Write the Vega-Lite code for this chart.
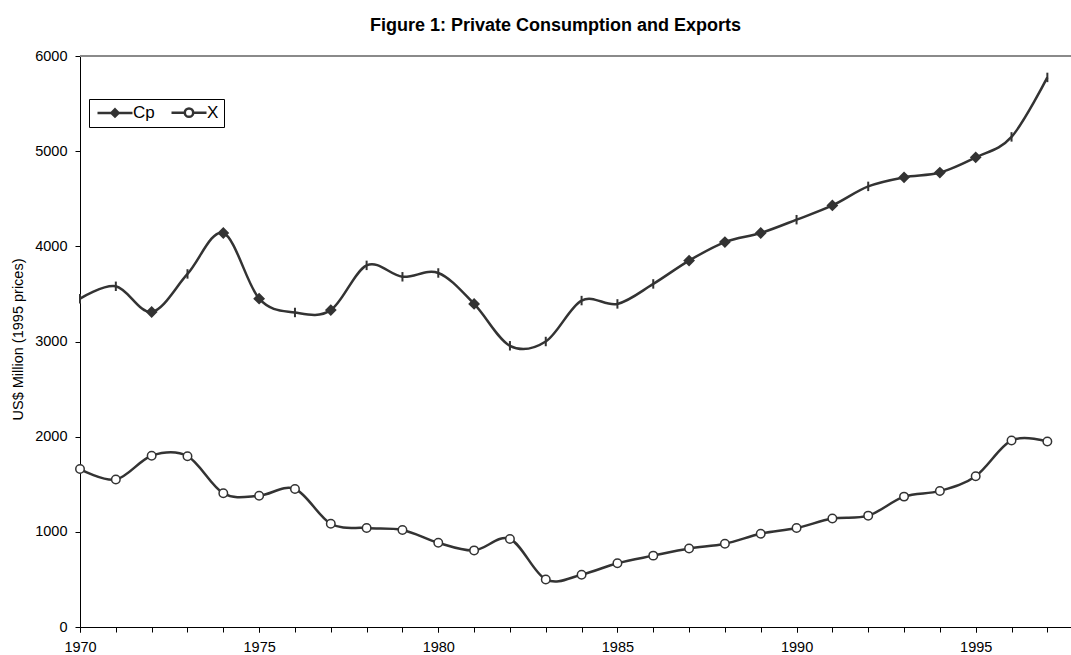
{
  "$schema": "https://vega.github.io/schema/vega-lite/v6.json",
  "width": 991,
  "height": 571,
  "autosize": {"type": "none"},
  "padding": {"left": 80, "top": 56, "right": 0, "bottom": 28},
  "background": "white",
  "title": {
    "text": "Figure 1: Private Consumption and Exports",
    "font": "Liberation Sans",
    "fontSize": 18,
    "fontWeight": "bold",
    "color": "#000000",
    "anchor": "middle",
    "frame": "group",
    "baseline": "alphabetic",
    "dx": -20,
    "offset": -1
  },
  "config": {
    "font": "Liberation Sans",
    "view": {"stroke": null},
    "axis": {
      "grid": false,
      "domainColor": "#000000",
      "domainWidth": 1,
      "tickColor": "#000000",
      "tickWidth": 1,
      "labelColor": "#000000",
      "titleColor": "#000000",
      "labelFont": "Liberation Sans",
      "titleFont": "Liberation Sans",
      "labelFontSize": 14.5,
      "titleFontSize": 14.5,
      "titleFontWeight": "normal"
    }
  },
  "resolve": {"axis": {"x": "independent"}},
  "data": {
    "values": [
      {"year": 1970, "series": "Cp", "value": 3450},
      {"year": 1971, "series": "Cp", "value": 3580},
      {"year": 1972, "series": "Cp", "value": 3310},
      {"year": 1973, "series": "Cp", "value": 3710},
      {"year": 1974, "series": "Cp", "value": 4140},
      {"year": 1975, "series": "Cp", "value": 3450},
      {"year": 1976, "series": "Cp", "value": 3305},
      {"year": 1977, "series": "Cp", "value": 3330},
      {"year": 1978, "series": "Cp", "value": 3800},
      {"year": 1979, "series": "Cp", "value": 3680},
      {"year": 1980, "series": "Cp", "value": 3720},
      {"year": 1981, "series": "Cp", "value": 3395},
      {"year": 1982, "series": "Cp", "value": 2955},
      {"year": 1983, "series": "Cp", "value": 3000},
      {"year": 1984, "series": "Cp", "value": 3430},
      {"year": 1985, "series": "Cp", "value": 3395},
      {"year": 1986, "series": "Cp", "value": 3605},
      {"year": 1987, "series": "Cp", "value": 3850},
      {"year": 1988, "series": "Cp", "value": 4045},
      {"year": 1989, "series": "Cp", "value": 4140},
      {"year": 1990, "series": "Cp", "value": 4280},
      {"year": 1991, "series": "Cp", "value": 4430},
      {"year": 1992, "series": "Cp", "value": 4630},
      {"year": 1993, "series": "Cp", "value": 4725},
      {"year": 1994, "series": "Cp", "value": 4775},
      {"year": 1995, "series": "Cp", "value": 4935},
      {"year": 1996, "series": "Cp", "value": 5150},
      {"year": 1997, "series": "Cp", "value": 5775},
      {"year": 1970, "series": "X", "value": 1660},
      {"year": 1971, "series": "X", "value": 1550},
      {"year": 1972, "series": "X", "value": 1800},
      {"year": 1973, "series": "X", "value": 1795},
      {"year": 1974, "series": "X", "value": 1405},
      {"year": 1975, "series": "X", "value": 1380},
      {"year": 1976, "series": "X", "value": 1450},
      {"year": 1977, "series": "X", "value": 1085},
      {"year": 1978, "series": "X", "value": 1040},
      {"year": 1979, "series": "X", "value": 1020},
      {"year": 1980, "series": "X", "value": 885},
      {"year": 1981, "series": "X", "value": 805},
      {"year": 1982, "series": "X", "value": 925},
      {"year": 1983, "series": "X", "value": 500},
      {"year": 1984, "series": "X", "value": 550},
      {"year": 1985, "series": "X", "value": 670},
      {"year": 1986, "series": "X", "value": 750},
      {"year": 1987, "series": "X", "value": 825},
      {"year": 1988, "series": "X", "value": 875},
      {"year": 1989, "series": "X", "value": 980},
      {"year": 1990, "series": "X", "value": 1040},
      {"year": 1991, "series": "X", "value": 1140},
      {"year": 1992, "series": "X", "value": 1170},
      {"year": 1993, "series": "X", "value": 1370},
      {"year": 1994, "series": "X", "value": 1430},
      {"year": 1995, "series": "X", "value": 1585},
      {"year": 1996, "series": "X", "value": 1960},
      {"year": 1997, "series": "X", "value": 1950}
    ]
  },
  "layer": [
    {
      "mark": {"type": "rule", "color": "#8a8a8a", "strokeWidth": 1.5},
      "encoding": {"y": {"datum": 6000, "type": "quantitative"}}
    },
    {
      "mark": {"type": "line", "interpolate": "cardinal", "color": "#333333", "strokeWidth": 2.5},
      "encoding": {
        "x": {
          "field": "year",
          "type": "quantitative",
          "scale": {"domain": [1970, 1997.66], "nice": false, "zero": false},
          "axis": {
            "orient": "bottom",
            "title": null,
            "values": [1970, 1975, 1980, 1985, 1990, 1995],
            "format": "d",
            "tickSize": 5,
            "labelPadding": 8,
            "labelFlush": false,
            "labelOverlap": false
          }
        },
        "y": {
          "field": "value",
          "type": "quantitative",
          "scale": {"domain": [0, 6000], "nice": false},
          "axis": {
            "title": "US$ Million (1995 prices)",
            "values": [0, 1000, 2000, 3000, 4000, 5000, 6000],
            "format": "d",
            "tickSize": 5,
            "labelPadding": 8,
            "titleAngle": -90,
            "titleX": -58,
            "titleY": 283,
            "titleAlign": "center",
            "titleBaseline": "alphabetic"
          }
        },
        "detail": {"field": "series", "type": "nominal"}
      }
    },
    {
      "transform": [{"filter": "datum.series === 'Cp'"}],
      "mark": {"type": "point", "filled": true, "opacity": 1, "fill": "#333333", "stroke": "#333333", "strokeWidth": 2, "size": 81},
      "encoding": {
        "x": {
          "field": "year",
          "type": "quantitative",
          "axis": {
            "orient": "bottom",
            "title": null,
            "values": [1970, 1971, 1972, 1973, 1974, 1975, 1976, 1977, 1978, 1979, 1980, 1981, 1982, 1983, 1984, 1985, 1986, 1987, 1988, 1989, 1990, 1991, 1992, 1993, 1994, 1995, 1996, 1997],
            "labels": false,
            "domain": false,
            "tickSize": 5
          }
        },
        "y": {"field": "value", "type": "quantitative"},
        "shape": {
          "condition": {"test": "indexof([1972, 1974, 1975, 1977, 1981, 1987, 1988, 1989, 1991, 1993, 1994, 1995], datum.year) >= 0", "value": "diamond"},
          "value": "M0,-1.05V1.05"
        }
      }
    },
    {
      "transform": [{"filter": "datum.series === 'X'"}],
      "mark": {"type": "point", "shape": "circle", "filled": true, "opacity": 1, "fill": "#ffffff", "stroke": "#333333", "strokeWidth": 1.5, "size": 72},
      "encoding": {
        "x": {"field": "year", "type": "quantitative", "axis": null},
        "y": {"field": "value", "type": "quantitative"}
      }
    },
    {
      "transform": [{"filter": "false"}],
      "mark": {"type": "point", "filled": true, "opacity": 1, "size": 100, "stroke": "#333333", "strokeWidth": 2.5},
      "encoding": {
        "fill": {
          "field": "series",
          "type": "nominal",
          "scale": {"domain": ["Cp", "X"], "range": ["#333333", "#ffffff"]},
          "legend": {
            "title": null,
            "orient": "none",
            "legendX": 9,
            "legendY": 43,
            "direction": "horizontal",
            "symbolSize": 100,
            "symbolOpacity": 1,
            "symbolStrokeWidth": 2.5,
            "labelFont": "Liberation Sans",
            "labelFontSize": 17,
            "labelColor": "#000000",
            "labelOffset": 22,
            "columnPadding": 11,
            "padding": 5,
            "strokeColor": "#000000",
            "fillColor": "#ffffff",
            "encode": {
              "symbols": {
                "update": {
                  "stroke": {"value": "#333333"},
                  "strokeWidth": {"value": 2.5}
                }
              }
            }
          }
        },
        "shape": {
          "field": "series",
          "type": "nominal",
          "scale": {
            "domain": ["Cp", "X"],
            "range": [
              "M-1,0H6M2.5,-0.72L3.22,0L2.5,0.72L1.78,0Z",
              "M-1,0H1.66M3.34,0H6M3.34,0A0.84,0.84,0,1,1,1.66,0A0.84,0.84,0,1,1,3.34,0Z"
            ]
          },
          "legend": {
            "title": null,
            "orient": "none",
            "legendX": 9,
            "legendY": 43,
            "direction": "horizontal",
            "symbolSize": 100,
            "symbolOpacity": 1,
            "symbolStrokeWidth": 2.5,
            "labelFont": "Liberation Sans",
            "labelFontSize": 17,
            "labelColor": "#000000",
            "labelOffset": 22,
            "columnPadding": 11,
            "padding": 5,
            "strokeColor": "#000000",
            "fillColor": "#ffffff",
            "encode": {
              "symbols": {
                "update": {
                  "stroke": {"value": "#333333"},
                  "strokeWidth": {"value": 2.5}
                }
              }
            }
          }
        }
      }
    }
  ]
}
